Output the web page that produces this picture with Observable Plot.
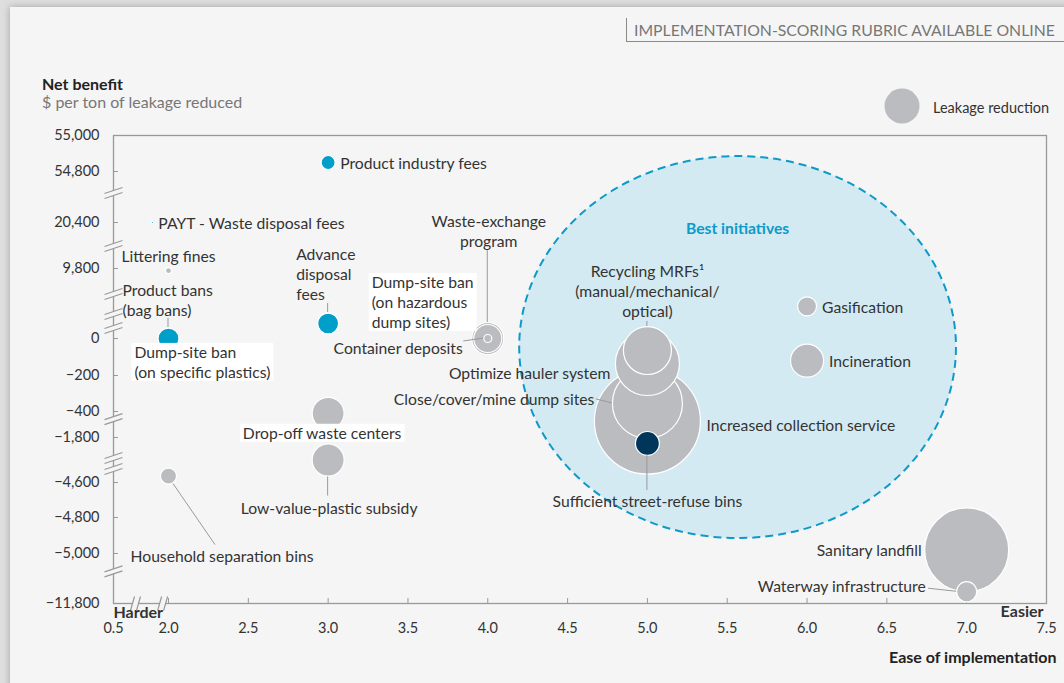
<!DOCTYPE html>
<html>
<head>
<meta charset="utf-8">
<script src="https://cdn.jsdelivr.net/npm/d3@7"></script>
<script src="https://cdn.jsdelivr.net/npm/@observablehq/plot@0.6"></script>
<style>
  html, body { margin:0; padding:0; width:1064px; height:683px; overflow:hidden; background:#dedede;
    font-family: Lato, "Open Sans", sans-serif; color:#333; }
  #card { position:absolute; left:10px; top:7px; width:1080px; height:700px; background:#f5f5f5;
    box-shadow: 0 0 7px rgba(0,0,0,0.28); }
  #rubric { position:absolute; left:626px; top:18px; width:440px; height:24px; border-left:1.5px solid #8a8a8a;
    border-bottom:1.5px solid #8a8a8a; font-size:15.8px; color:#777; line-height:24px; padding-left:7px; box-sizing:border-box; white-space:nowrap; }
  #ytitle { position:absolute; left:42px; top:74px; font-size:16px; font-weight:bold; color:#222; }
  #ysub { position:absolute; left:42px; top:92px; font-size:16px; color:#777; }
  #legend { position:absolute; left:0; top:0; }
  #legendText { position:absolute; left:933px; top:99px; font-size:14.5px; color:#333; white-space:nowrap; }
  #chart { position:absolute; left:0; top:120px; }
</style>
</head>
<body>
<div id="card"></div>
<div id="rubric">IMPLEMENTATION-SCORING RUBRIC AVAILABLE ONLINE</div>
<div id="ytitle">Net benefit</div>
<div id="ysub">$ per ton of leakage reduced</div>
<div id="legend"></div>
<div id="legendText">Leakage reduction</div>
<div id="chart"></div>
<script>
// ---------- data ----------
const names = [
  "Product industry fees",
  "PAYT - Waste disposal fees",
  "Littering fines",
  "Product bans\n(bag bans)",
  "Dump-site ban\n(on specific plastics)",
  "Advance\ndisposal\nfees",
  "Dump-site ban\n(on hazardous\ndump sites)",
  "Waste-exchange\nprogram",
  "Container deposits",
  "Drop-off waste centers",
  "Low-value-plastic subsidy",
  "Household separation bins",
  "Recycling MRFs\u00b9\n(manual/mechanical/\noptical)",
  "Optimize hauler system",
  "Close/cover/mine dump sites",
  "Increased collection service",
  "Sufficient street-refuse bins",
  "Gasification",
  "Incineration",
  "Sanitary landfill",
  "Waterway infrastructure"
];
const ease = [3.0, 1.56, 2.0, 2.0, 2.0, 3.0, 4.0, 4.0, 4.0, 3.0, 3.0, 2.0, 5.0, 5.0, 5.0, 5.0, 5.0, 6.0, 6.0, 7.0, 7.0];
const netBenefit = [54850, 20400, 9500, 0, 0, 2100, 0, 0, 0, -500, -3200, -4200, -65, -135, -355, -915, -2170, 4500, -120, -4980, -10200];
const leakage = [1.74, 0.05, 0.32, 3.9, 0, 3.9, 9.1, 7.0, 0.57, 9.1, 9.1, 2.3, 20.5, 36.5, 43.6, 100, 5.1, 3.2, 9.7, 62.8, 3.6];
const group = ["policy","policy","standard","policy","standard","policy","standard","standard","standard","standard","standard","standard","standard","standard","standard","standard","key","standard","standard","standard","standard"];
const legendValue = 10.9;

const yTicks = [55000, 54800, 20400, 9800, 0, -200, -400, -1800, -4600, -4800, -5000, -11800];
const xTicks = [0.5, 2.0, 2.5, 3.0, 3.5, 4.0, 4.5, 5.0, 5.5, 6.0, 6.5, 7.0, 7.5];
const yBreaks = [40600, 15100, 6300, 3500, 1540, -780, -3045, -3730, -7360];
const xBreaks = [1.1, 1.84];
const best = {x1: 4.2, x2: 6.936, y1: -4917, y2: 54883, label: "Best initiatives"};

const data = names.map((name, i) => ({name, ease: ease[i], net: netBenefit[i], leakage: leakage[i], group: group[i]}));

// ---------- layout (label placement, leaders) ----------
const labelLayout = {
  "Product industry fees": {anchor:"start", dx:12, dy:0},
  "PAYT - Waste disposal fees": {anchor:"start", dx:6, dy:0},
  "Littering fines": {anchor:"middle", dx:0, dy:-15},
  "Product bans\n(bag bans)": {anchor:"start", dx:-46, dy:-39},
  "Dump-site ban\n(on specific plastics)": {anchor:"start", dx:-34, dy:23, boxed:true},
  "Advance\ndisposal\nfees": {anchor:"start", dx:-32, dy:-50},
  "Dump-site ban\n(on hazardous\ndump sites)": {anchor:"start", dx:-116, dy:-37, boxed:true},
  "Container deposits": {anchor:"end", dx:-25, dy:9},
  "Waste-exchange\nprogram": {anchor:"middle", dx:1, dy:-108},
  "Drop-off waste centers": {anchor:"middle", dx:-6, dy:19, boxed:true},
  "Low-value-plastic subsidy": {anchor:"middle", dx:1, dy:48},
  "Household separation bins": {anchor:"start", dx:-38, dy:80},
  "Recycling MRFs\u00b9\n(manual/mechanical/\noptical)": {anchor:"middle", dx:0, dy:-60},
  "Optimize hauler system": {anchor:"end", dx:-37, dy:9},
  "Close/cover/mine dump sites": {anchor:"end", dx:-53, dy:-5},
  "Increased collection service": {anchor:"start", dx:59, dy:4},
  "Sufficient street-refuse bins": {anchor:"middle", dx:0, dy:57},
  "Gasification": {anchor:"start", dx:15, dy:0},
  "Incineration": {anchor:"start", dx:22, dy:0},
  "Sanitary landfill": {anchor:"end", dx:-45, dy:0},
  "Waterway infrastructure": {anchor:"end", dx:-41, dy:-6}
};
const leaders = {
  "Product bans\n(bag bans)": [[0,-20],[0,-11]],
  "Advance\ndisposal\nfees": [[0,-20],[0,-11]],
  "Waste-exchange\nprogram": [[0,-88],[0,-16]],
  "Container deposits": [[-24,3],[-4,0]],
  "Low-value-plastic subsidy": [[0,17],[0,36]],
  "Household separation bins": [[5,8],[47,69]],
  "Recycling MRFs\u00b9\n(manual/mechanical/\noptical)": [[0,-29],[0,-24]],
  "Close/cover/mine dump sites": [[-51,-4],[-35,0]],
  "Sufficient street-refuse bins": [[0,12],[0,47]],
  "Waterway infrastructure": [[-38,-3],[-10,0]]
};

const BG = "#f5f5f5", AXIS = "#999", TEXT = "#333", LABEL_SIZE = 15.7;

// custom break symbols
const yBreakBand = {draw(c){ c.moveTo(-9,1); c.lineTo(9,-5); c.lineTo(9,0); c.lineTo(-9,6); c.closePath(); }};
const yBreakLines = {draw(c){ c.moveTo(-9,1); c.lineTo(9,-5); c.moveTo(-9,6); c.lineTo(9,0); }};
const xBreakBand = {draw(c){ c.moveTo(-5,7); c.lineTo(-1,-7); c.lineTo(5,-7); c.lineTo(1,7); c.closePath(); }};
const xBreakLines = {draw(c){ c.moveTo(-5,7); c.lineTo(-1,-7); c.moveTo(1,7); c.lineTo(5,-7); }};

// best initiatives region
function bestRegion(index, scales) {
  const x1 = scales.x(best.x1), x2 = scales.x(best.x2);
  const yTop = scales.y(best.y2), yBot = scales.y(best.y1);
  const g = d3.create("svg:g");
  g.append("ellipse")
    .attr("cx", (x1 + x2) / 2).attr("cy", (yTop + yBot) / 2)
    .attr("rx", (x2 - x1) / 2).attr("ry", (yBot - yTop) / 2)
    .attr("fill", "#d3eaf2").attr("stroke", "#0d9ac8")
    .attr("stroke-width", 2).attr("stroke-dasharray", "8,5");
  g.append("text")
    .attr("x", (x1 + x2) / 2).attr("y", yTop + 72).attr("dy", "0.35em")
    .attr("text-anchor", "middle").attr("fill", "#0d9ac8")
    .attr("font-weight", "bold").attr("font-size", LABEL_SIZE).text(best.label);
  return g.node();
}

function leaderMark(index, scales) {
  const g = d3.create("svg:g").attr("stroke", AXIS).attr("stroke-width", 1);
  for (const d of data) {
    const l = leaders[d.name];
    if (!l) continue;
    const px = scales.x(d.ease), py = scales.y(d.net);
    g.append("line")
      .attr("x1", px + l[0][0]).attr("y1", py + l[0][1])
      .attr("x2", px + l[1][0]).attr("y2", py + l[1][1]);
  }
  return g.node();
}

const labelMarks = data.map(d => {
  const L = labelLayout[d.name];
  return Plot.text([d], {
    x: "ease", y: "net", text: "name",
    textAnchor: L.anchor, dx: L.dx, dy: L.dy,
    lineHeight: 1.27, fill: TEXT, fontSize: LABEL_SIZE
  });
});

const chart = Plot.plot({
  width: 1064, height: 563,
  marginLeft: 113, marginRight: 18, marginTop: 15, marginBottom: 80,
  style: {fontFamily: "Lato, 'Open Sans', sans-serif", fontSize: "14px", background: "transparent", color: TEXT, overflow: "visible"},
  x: {type: "linear", domain: [0.5, 2.0, 7.5], range: [113, 168, 1046]},
  y: {type: "linear", domain: [-11800, -5000, -4800, -4600, -1800, -400, -200, 0, 9800, 20400, 54800, 55000],
      range: [483, 433, 397, 362, 317, 291, 255, 218, 148, 102, 51, 15]},
  r: {type: "sqrt", domain: [0, 100], range: [0, 53]},
  color: {domain: ["policy", "standard", "key"], range: ["#009fca", "#bbbcbf", "#00365a"]},
  marks: [
    bestRegion,
    Plot.frame({stroke: AXIS, strokeWidth: 1.3}),
    Plot.axisY(yTicks, {anchor: "left", tickSize: 5, dx: 5, tickPadding: 14, tickFormat: d3.format(","),
      label: null, stroke: AXIS, fill: TEXT, fontSize: 14.5}),
    Plot.axisX(xTicks, {anchor: "bottom", tickSize: 5, dy: -5, tickPadding: 19, tickFormat: d3.format(".1f"),
      label: null, stroke: AXIS, fill: TEXT, fontSize: 14.5}),
    Plot.dot(yBreaks, {y: d => d, frameAnchor: "left", symbol: yBreakBand, fill: BG, stroke: "none", r: 5}),
    Plot.dot(yBreaks, {y: d => d, frameAnchor: "left", symbol: yBreakLines, fill: "none", stroke: AXIS, strokeWidth: 1.2, r: 5}),
    Plot.dot(xBreaks, {x: d => d, frameAnchor: "bottom", symbol: xBreakBand, fill: BG, stroke: "none", r: 5}),
    Plot.dot(xBreaks, {x: d => d, frameAnchor: "bottom", symbol: xBreakLines, fill: "none", stroke: AXIS, strokeWidth: 1.2, r: 5}),
    Plot.dot(data, {x: "ease", y: "net", r: "leakage", fill: "group", stroke: "white", strokeWidth: 1.2}),
    leaderMark,
    ...labelMarks,
    Plot.text(["Harder"], {frameAnchor: "bottom-left", text: d => d, textAnchor: "start", dy: 14, fontWeight: "bold", fontSize: 16, fill: TEXT}),
    Plot.text(["Easier"], {frameAnchor: "bottom-right", text: d => d, textAnchor: "end", dx: -3, dy: 13, fontWeight: "bold", fontSize: 16, fill: TEXT}),
    Plot.text(["Ease of implementation"], {frameAnchor: "bottom-right", text: d => d, textAnchor: "end", dx: 10, dy: 59, fontWeight: "bold", fontSize: 16, fill: "#222"})
  ]
});
document.getElementById("chart").appendChild(chart);

// white boxes behind the boxed labels (matched by their text)
const boxedNames = new Set(Object.keys(labelLayout).filter(k => labelLayout[k].boxed).map(k => k.replace(/\n/g, "")));
d3.select(chart).selectAll("text").each(function() {
  if (!boxedNames.has(this.textContent.replace(/\n/g, ""))) return;
  const b = this.getBBox();
  const r = document.createElementNS("http://www.w3.org/2000/svg", "rect");
  r.setAttribute("x", b.x - 3); r.setAttribute("y", b.y);
  r.setAttribute("width", b.width + 6); r.setAttribute("height", b.height);
  r.setAttribute("fill", "white");
  const t = this.getAttribute("transform");
  if (t) r.setAttribute("transform", t);
  this.parentNode.insertBefore(r, this);
});

// legend bubble (size from the same r scale)
const rLeg = chart.scale("r").apply(legendValue);
const leg = d3.select("#legend").append("svg").attr("width", 1064).attr("height", 130);
leg.append("circle").attr("cx", 902).attr("cy", 106).attr("r", rLeg).attr("fill", "#bbbcbf");
</script>
</body>
</html>
